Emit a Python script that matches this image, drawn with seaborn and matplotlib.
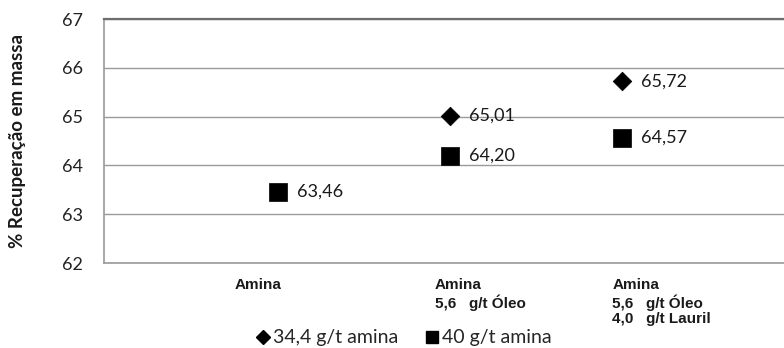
import matplotlib
matplotlib.use("Agg")
import matplotlib.pyplot as plt
import matplotlib.transforms as mtransforms
from matplotlib.lines import Line2D
import numpy as np
import pandas as pd
import seaborn as sns

# Reagent conditions (x categories) and mass recovery for each amine dosage
categories = ["Amina", "Amina\n5,6   g/t Óleo", "Amina\n5,6   g/t Óleo\n4,0   g/t Lauril"]
series_names = ["34,4 g/t amina", "40 g/t amina"]
recovery_344 = [np.nan, 65.01, 65.72]
recovery_40 = [63.46, 64.20, 64.57]
y_ticks = [62, 63, 64, 65, 66, 67]

df = pd.DataFrame({
    "pos": list(range(len(categories))) * 2,
    "serie": [series_names[0]] * 3 + [series_names[1]] * 3,
    "valor": recovery_344 + recovery_40,
}).dropna()

sns.set_theme(style="white")
plt.rcParams["font.family"] = ["Lato", "DejaVu Sans"]

fig = plt.figure(figsize=(7.84, 3.48), dpi=100)
ax = fig.add_axes([104 / 784, (348 - 263) / 348, 680 / 784, 244 / 348])

markers = {series_names[0]: "D", series_names[1]: "s"}
sizes_pt = {series_names[0]: 9.5, series_names[1]: 12.5}
for name in series_names:
    sub = df[df["serie"] == name]
    sns.scatterplot(data=sub, x="pos", y="valor", marker=markers[name],
                    s=sizes_pt[name] ** 2, color="black", edgecolor="black",
                    linewidth=0.5, ax=ax, legend=False, zorder=3)
    for _, r in sub.iterrows():
        ax.annotate(f"{r['valor']:.2f}".replace(".", ","), (r["pos"], r["valor"]),
                    xytext=(19, 0), textcoords="offset pixels",
                    ha="left", va="center", fontsize=13, color="#1a1a1a",
                    zorder=4)

ax.set_xlim(-1.01, 2.94)
ax.set_ylim(62, 67)
ax.set_yticks(y_ticks)
ax.set_yticklabels([str(t) for t in y_ticks], fontsize=13, color="#222222")
ax.tick_params(axis="y", length=0, pad=15)
ax.grid(axis="y", color="#9a9a9a", linewidth=1.0)
ax.set_axisbelow(True)

ax.spines["right"].set_visible(False)
ax.spines["top"].set_color("#6e6e6e")
ax.spines["top"].set_linewidth(1.6)
ax.spines["left"].set_color("#9a9a9a")
ax.spines["bottom"].set_color("#9a9a9a")
ax.spines["left"].set_linewidth(1.2)
ax.spines["bottom"].set_linewidth(1.2)

ax.set_xticks(range(len(categories)))
ax.set_xticklabels(categories, fontsize=11, fontweight="bold",
                   family=["Liberation Sans", "DejaVu Sans"], ha="left",
                   va="top", multialignment="left", color="#1a1a1a",
                   linespacing=1.15)
ax.tick_params(axis="x", length=0, pad=11)
label_shift_px = [-43, -15, -10]
for lbl, dx in zip(ax.get_xticklabels(), label_shift_px):
    lbl.set_transform(lbl.get_transform() +
                      mtransforms.ScaledTranslation(dx / 100, 0, fig.dpi_scale_trans))
ax.set_xlabel("")
ax.set_ylabel("% Recuperação em massa", fontsize=13.5, fontweight="bold",
              color="#1a1a1a")
ax.yaxis.set_label_coords((26 - 104) / 680, 0.5)

handles = [Line2D([], [], linestyle="none", marker="D", color="black", markersize=7),
           Line2D([], [], linestyle="none", marker="s", color="black", markersize=9)]
leg = fig.legend(handles, series_names, loc="center", bbox_to_anchor=(404 / 784, 1 - 338 / 348),
                 ncol=2, frameon=False, fontsize=14, handlelength=0.7,
                 handletextpad=0.15, columnspacing=1.4, borderpad=0)

fig.savefig("out.png", dpi=100)
